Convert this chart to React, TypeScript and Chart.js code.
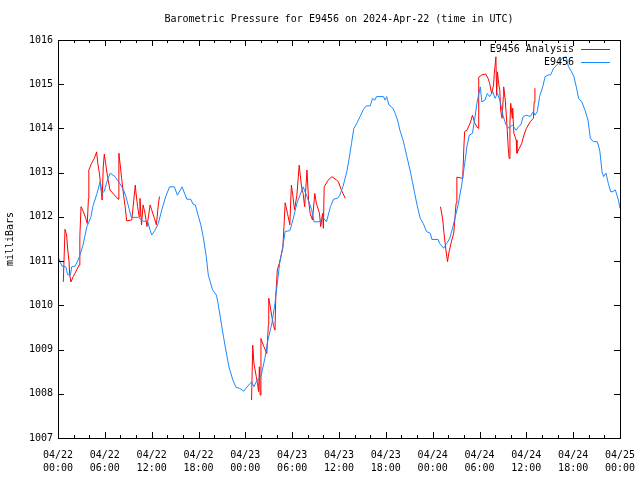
import React, { useEffect, useRef } from "react";
import { Chart, registerables } from "chart.js";

Chart.register(...registerables);

const titleText = "Barometric Pressure for E9456 on 2024-Apr-22 (time in UTC)";
const yAxisTitle = "milliBars";
const seriesNames = ["E9456 Analysis", "E9456"];
const dayLabels = ["04/22", "04/23", "04/24", "04/25"];

// Hours since 2024-04-22 00:00 UTC
const stationHours = [
  0, 0.5, 1.0, 1.25, 1.6, 1.75, 2.2, 2.7, 3.2, 3.7, 4.2, 4.5, 5.0, 5.4, 5.6, 5.9, 6.4, 6.7, 7.3, 7.9,
  8.4, 8.7, 9.1, 9.4, 10.3, 10.8, 11.5, 11.8, 12.0, 12.4, 12.85, 13.3, 13.8, 14.3, 14.9, 15.3, 15.9, 16.5, 17.0, 17.3,
  17.6, 18.0, 18.3, 18.6, 19.0, 19.25, 19.8, 20.3, 20.5, 20.85, 21.2, 21.5, 21.9, 22.4, 22.8, 23.3, 23.8, 24.2, 24.8, 25.1,
  25.5, 26.0, 26.5, 26.9, 27.4, 27.8, 28.1, 28.4, 28.8, 29.1, 29.7, 30.1, 30.6, 31.0, 31.4, 31.9, 32.5, 32.8, 33.5, 33.9,
  34.4, 34.9, 35.3, 35.8, 36.1, 36.5, 37.0, 37.3, 37.6, 37.9, 38.3, 38.7, 39.1, 39.5, 40.0, 40.3, 40.6, 40.8, 41.7, 41.9,
  42.1, 42.4, 42.9, 43.2, 43.5, 43.8, 44.2, 44.4, 44.7, 45.1, 45.4, 45.7, 46.0, 46.4, 46.8, 47.2, 47.7, 47.9, 48.7, 48.9,
  49.4, 49.8, 50.2, 50.6, 51.0, 51.3, 51.7, 52.1, 52.4, 52.7, 53.1, 53.4, 53.7, 54.1, 54.3, 54.7, 55.0, 55.3, 55.7, 56.0,
  56.3, 56.6, 56.8, 57.0, 57.4, 57.8, 58.2, 58.7, 59.0, 59.3, 59.6, 60.0, 60.5, 60.9, 61.1, 61.4, 61.7, 62.1, 62.4, 62.8,
  63.1, 63.5, 63.9, 64.3, 64.6, 65.1, 65.4, 65.8, 66.1, 66.4, 66.7, 67.1, 67.5, 67.9, 68.2, 68.6, 69.1, 69.4, 69.7, 69.9,
  70.2, 70.5, 70.8, 71.1, 71.4, 71.8, 72.0,
];
const stationValues = [
  1011.10, 1010.89, 1010.87, 1010.69, 1010.69, 1010.87, 1010.89, 1011.07, 1011.36, 1011.78, 1011.99, 1012.26, 1012.53, 1012.80, 1012.53, 1012.57, 1012.87, 1012.99, 1012.91, 1012.76,
  1012.61, 1012.46, 1012.19, 1011.99, 1011.99, 1011.91, 1011.89, 1011.70, 1011.59, 1011.69, 1011.85, 1012.16, 1012.46, 1012.68, 1012.68, 1012.49, 1012.68, 1012.40, 1012.40, 1012.29,
  1012.27, 1012.00, 1011.82, 1011.55, 1011.10, 1010.69, 1010.35, 1010.23, 1010.05, 1009.67, 1009.29, 1008.99, 1008.61, 1008.31, 1008.15, 1008.12, 1008.06, 1008.15, 1008.27, 1008.16,
  1008.31, 1008.39, 1008.80, 1009.22, 1009.59, 1010.05, 1010.50, 1010.95, 1011.33, 1011.67, 1011.69, 1011.93, 1012.31, 1012.49, 1012.68, 1012.46, 1012.16, 1011.89, 1011.89, 1012.00,
  1011.89, 1012.23, 1012.40, 1012.42, 1012.49, 1012.68, 1013.02, 1013.32, 1013.66, 1014.00, 1014.12, 1014.27, 1014.42, 1014.51, 1014.51, 1014.68, 1014.64, 1014.72, 1014.72, 1014.64,
  1014.72, 1014.53, 1014.46, 1014.34, 1014.19, 1013.96, 1013.74, 1013.59, 1013.36, 1013.06, 1012.80, 1012.53, 1012.27, 1011.97, 1011.85, 1011.67, 1011.63, 1011.49, 1011.49, 1011.40,
  1011.29, 1011.40, 1011.52, 1011.78, 1012.08, 1012.31, 1012.70, 1013.20, 1013.60, 1013.85, 1013.89, 1014.23, 1014.60, 1014.94, 1014.60, 1014.64, 1014.79, 1014.72, 1014.83, 1014.68,
  1014.79, 1014.64, 1014.49, 1014.30, 1014.08, 1014.00, 1014.08, 1013.96, 1014.04, 1014.08, 1014.27, 1014.30, 1014.27, 1014.38, 1014.30, 1014.38, 1014.72, 1014.94, 1015.17, 1015.21,
  1015.21, 1015.36, 1015.43, 1015.51, 1015.59, 1015.62, 1015.40, 1015.28, 1015.17, 1014.94, 1014.68, 1014.60, 1014.42, 1014.19, 1013.78, 1013.70, 1013.70, 1013.51, 1013.02, 1012.91,
  1012.99, 1012.76, 1012.57, 1012.57, 1012.61, 1012.38, 1012.19,
];

// Analysis series: null values break the line between segments
const analysisHours = [
  0.68, 0.9, 1.1, 1.25, 1.4, 1.5, 1.65, 1.95, 2.4, 2.7, 2.8, 2.95, 3.25, 3.55, 3.75, 3.9, 3.95, 4.3, 4.65, 4.95,
  5.1, 5.3, 5.5, 5.65, 5.8, 5.93, 6.1, 6.35, 6.65, 7.7, 7.8, 8.0, 8.15, 8.4, 8.6, 8.8, 9.45, 9.9, 10.0, 10.2,
  10.4, 10.5, 10.7, 10.9, 11.15, 11.4, 11.8, 12.0, 12.35, 12.6, 12.85, 13.0, 18.0,
  24.8, 24.95, 25.1, 25.4, 25.55, 25.7, 25.8, 25.9, 26.0, 26.3, 26.75, 26.95, 27.0, 27.2, 27.4, 27.6, 27.8, 27.9, 28.1, 28.35,
  28.5, 28.8, 28.95, 29.1, 29.4, 29.7, 29.9, 30.1, 30.3, 30.6, 30.9, 31.2, 31.4, 31.6, 31.9, 32.1, 32.3, 32.6, 32.9, 33.1,
  33.5, 33.65, 33.9, 34.0, 34.1, 34.6, 35.1, 35.7, 35.9, 36.3, 36.8, 42.0,
  49.0, 49.3, 49.45, 49.7, 49.9, 50.1, 50.4, 50.7, 51.0, 51.1, 51.85, 52.0, 52.1, 52.4, 52.8, 53.1, 53.4, 53.7, 53.85, 53.9,
  54.3, 54.8, 55.1, 55.3, 55.55, 55.8, 55.9, 56.1, 56.2, 56.3, 56.45, 56.6, 56.7, 56.9, 57.05, 57.1, 57.3, 57.5, 57.7, 57.8,
  57.9, 58.0, 58.2, 58.25, 58.4, 58.7, 58.8, 59.1, 59.4, 59.7, 60.0, 60.5, 60.9, 61.0, 61.1,
];
const analysisValues = [
  1010.53, 1011.72, 1011.59, 1011.25, 1011.02, 1010.69, 1010.53, 1010.65, 1010.80, 1010.91, 1011.55, 1012.23, 1012.12, 1011.97, 1011.85, 1012.42, 1013.06, 1013.21, 1013.32, 1013.47,
  1013.21, 1012.99, 1012.68, 1012.38, 1013.13, 1013.42, 1013.21, 1012.91, 1012.61, 1012.40, 1013.44, 1013.13, 1012.87, 1012.49, 1012.23, 1011.91, 1011.93, 1012.72, 1012.53, 1012.23,
  1012.00, 1012.42, 1011.82, 1012.27, 1012.08, 1011.78, 1012.27, 1012.16, 1011.97, 1011.82, 1012.27, 1012.46, null,
  1007.86, 1009.10, 1008.69, 1008.39, 1008.24, 1008.05, 1008.61, 1007.97, 1009.25, 1009.10, 1008.91, 1009.55, 1010.16, 1009.97, 1009.74, 1009.55, 1009.44, 1010.20, 1010.80, 1010.95,
  1011.06, 1011.29, 1011.78, 1012.32, 1012.08, 1011.82, 1012.72, 1012.46, 1012.16, 1012.49, 1013.17, 1012.68, 1012.53, 1012.23, 1013.06, 1012.38, 1012.08, 1011.93, 1012.53, 1012.31,
  1012.08, 1011.78, 1012.08, 1011.74, 1012.68, 1012.83, 1012.91, 1012.83, 1012.80, 1012.61, 1012.42, null,
  1012.23, 1011.93, 1011.63, 1011.25, 1010.99, 1011.21, 1011.44, 1011.63, 1012.31, 1012.90, 1012.87, 1013.59, 1013.93, 1013.96, 1014.12, 1014.30, 1014.12, 1014.03, 1014.00, 1015.16,
  1015.21, 1015.23, 1015.13, 1015.02, 1014.79, 1014.98, 1015.25, 1015.62, 1014.76, 1015.28, 1015.02, 1014.87, 1014.42, 1014.23, 1014.72, 1014.94, 1014.64, 1014.12, 1013.51, 1013.32,
  1014.12, 1014.57, 1014.23, 1014.46, 1013.89, 1013.74, 1013.44, 1013.55, 1013.66, 1013.85, 1014.00, 1014.15, 1014.23, 1014.60, 1014.91,
];

const X_MIN = 0;
const X_MAX = 72;
const Y_MIN = 1007;
const Y_MAX = 1016;

const RED = "#ff0000";
const BLUE = "#1a88ff";
const FONT = "'DejaVu Sans Mono', 'Liberation Mono', monospace";

const toPoints = (xs: number[], ys: (number | null)[]) => xs.map((x, i) => ({ x, y: ys[i] }));

const framePlugin = {
  id: "gnuplotFrame",
  afterDraw(chart: any) {
    const { ctx, chartArea, scales } = chart;
    const { left, right, top, bottom } = chartArea;
    const xs = scales.x;
    const ys = scales.y;
    ctx.save();
    ctx.strokeStyle = "#000";
    ctx.lineWidth = 1;
    ctx.beginPath();
    // x ticks every 2 hours, major every 6 hours
    for (let h = X_MIN; h <= X_MAX; h += 2) {
      const px = Math.round(xs.getPixelForValue(h)) + 0.5;
      const len = h % 6 === 0 ? 6 : 3;
      ctx.moveTo(px, bottom);
      ctx.lineTo(px, bottom - len);
      ctx.moveTo(px, top);
      ctx.lineTo(px, top + len);
    }
    for (let v = Y_MIN; v <= Y_MAX; v += 1) {
      const py = Math.round(ys.getPixelForValue(v)) + 0.5;
      ctx.moveTo(left, py);
      ctx.lineTo(left + 6, py);
      ctx.moveTo(right, py);
      ctx.lineTo(right - 6, py);
    }
    ctx.stroke();
    ctx.strokeRect(Math.round(left) + 0.5, Math.round(top) + 0.5, Math.round(right - left), Math.round(bottom - top));

    ctx.font = "10px " + FONT;
    ctx.fillStyle = "#000";
    ctx.textBaseline = "middle";

    // title centred over the plot area
    ctx.textAlign = "center";
    ctx.fillText(titleText, (left + right) / 2, 19);

    // legend (gnuplot style, inside top-right)
    ctx.textAlign = "right";
    const colors = [RED, BLUE];
    seriesNames.forEach((name, i) => {
      const yy = top + 9 + i * 13;
      ctx.fillText(name, right - 46, yy);
      ctx.strokeStyle = colors[i];
      ctx.beginPath();
      ctx.moveTo(right - 39, Math.round(yy) + 0.5);
      ctx.lineTo(right - 10, Math.round(yy) + 0.5);
      ctx.stroke();
    });
    ctx.restore();
  },
};

export default function App() {
  const canvasRef = useRef<HTMLCanvasElement | null>(null);

  useEffect(() => {
    if (!canvasRef.current) return;
    Chart.defaults.font.family = FONT;
    Chart.defaults.font.size = 10;
    Chart.defaults.color = "#000";
    const chart = new Chart(canvasRef.current, {
      type: "line",
      data: {
        datasets: [
          {
            label: seriesNames[0],
            data: toPoints(analysisHours, analysisValues),
            borderColor: RED,
            backgroundColor: RED,
            borderWidth: 1,
            pointRadius: 0,
            tension: 0,
            spanGaps: false,
            order: 1,
          },
          {
            label: seriesNames[1],
            data: toPoints(stationHours, stationValues),
            borderColor: BLUE,
            backgroundColor: BLUE,
            borderWidth: 1,
            pointRadius: 0,
            tension: 0,
            order: 0,
          },
        ],
      },
      options: {
        animation: false,
        responsive: false,
        devicePixelRatio: 1,
        layout: { padding: { left: 0, right: 20, top: 40, bottom: 0 } },
        plugins: {
          legend: { display: false },
          tooltip: { enabled: false },
          title: { display: false },
        },
        scales: {
          x: {
            type: "linear",
            min: X_MIN,
            max: X_MAX,
            grid: { display: false, drawTicks: false },
            border: { display: false },
            afterFit: (scale: any) => {
              scale.height = 42;
              scale.paddingLeft = 0;
              scale.paddingRight = 0;
            },
            afterBuildTicks: (scale: any) => {
              const t = [];
              for (let h = X_MIN; h <= X_MAX; h += 6) t.push({ value: h });
              scale.ticks = t;
            },
            ticks: {
              autoSkip: false,
              maxRotation: 0,
              minRotation: 0,
              padding: 11,
              font: { family: FONT, size: 10, lineHeight: 1.3 },
              callback: (value: any) => {
                const v = Number(value);
                const day = dayLabels[Math.floor(v / 24)];
                const hr = v % 24;
                return [day, (hr < 10 ? "0" : "") + hr + ":00"];
              },
            },
          },
          y: {
            type: "linear",
            min: Y_MIN,
            max: Y_MAX,
            grid: { display: false, drawTicks: false },
            border: { display: false },
            afterFit: (scale: any) => {
              scale.width = 58;
              scale.paddingTop = 0;
              scale.paddingBottom = 0;
            },
            ticks: {
              stepSize: 1,
              padding: 5,
              font: { family: FONT, size: 10 },
              callback: (value: any) => String(value),
            },
            title: {
              display: true,
              text: yAxisTitle,
              color: "#000",
              font: { family: FONT, size: 10 },
              padding: { top: 4, bottom: 0 },
            },
          },
        },
      },
      plugins: [framePlugin],
    } as any);
    return () => chart.destroy();
  }, []);

  return (
    <div style={{ position: "absolute", left: 0, top: 0, width: 640, height: 480, background: "#fff" }}>
      <canvas ref={canvasRef} width={640} height={480} />
    </div>
  );
}
